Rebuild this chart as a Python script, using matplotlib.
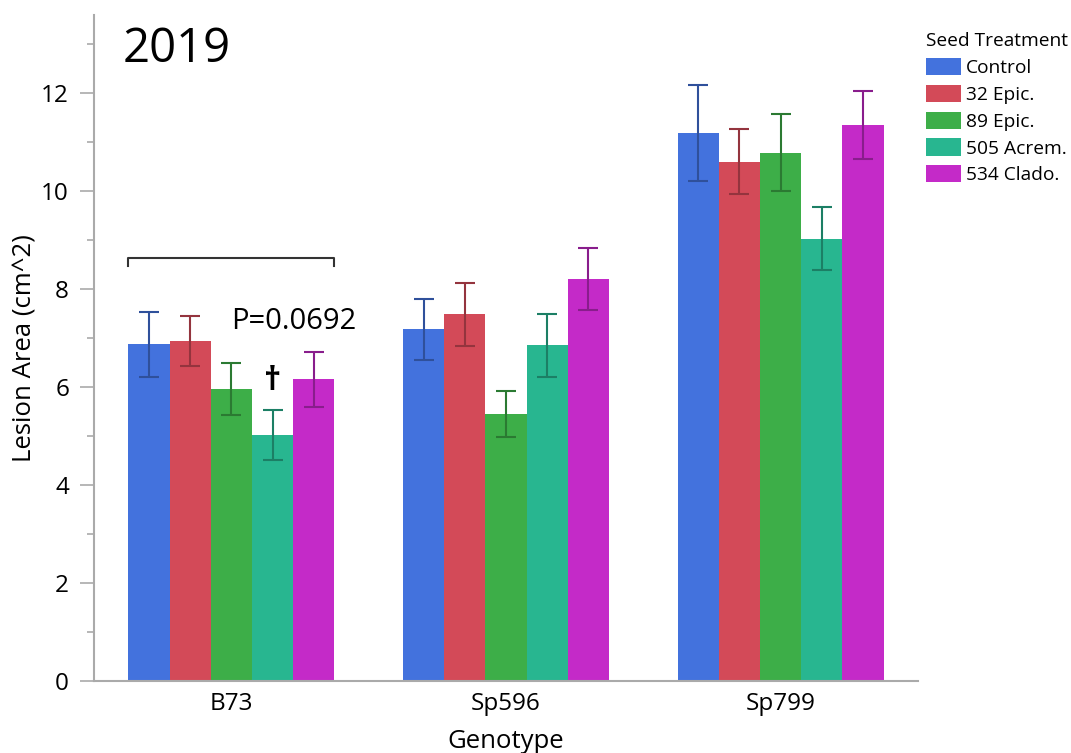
import matplotlib
matplotlib.use('Agg')
import matplotlib.pyplot as plt
import matplotlib.colors as mcolors
import numpy as np

plt.rcParams['font.family'] = ['Open Sans', 'DejaVu Sans']

# lesion area means and errors per genotype / seed treatment
genotypes = ['B73', 'Sp596', 'Sp799']
treatments = ['Control', '32 Epic.', '89 Epic.', '505 Acrem.', '534 Clado.']
means = {
    'Control':    [6.87, 7.18, 11.19],
    '32 Epic.':   [6.94, 7.48, 10.60],
    '89 Epic.':   [5.96, 5.45, 10.78],
    '505 Acrem.': [5.02, 6.85, 9.03],
    '534 Clado.': [6.16, 8.20, 11.35],
}
errors = {
    'Control':    [0.66, 0.62, 0.98],
    '32 Epic.':   [0.51, 0.64, 0.67],
    '89 Epic.':   [0.53, 0.47, 0.79],
    '505 Acrem.': [0.51, 0.65, 0.64],
    '534 Clado.': [0.56, 0.63, 0.69],
}
colors = ['#4372dd', '#d34a58', '#3dae48', '#28b690', '#c42ac8']

fig = plt.figure(figsize=(10.71, 7.53), dpi=100)
ax = fig.add_axes([0.0878, 0.0956, 0.7693, 0.885])

x = np.arange(len(genotypes))
width = 0.15
for i, t in enumerate(treatments):
    pos = x + (i - 2) * width
    dark = np.array(mcolors.to_rgb(colors[i])) * 0.7
    ax.bar(pos, means[t], width, color=colors[i], label=t, zorder=2)
    ax.errorbar(pos, means[t], yerr=errors[t], fmt='none', ecolor=dark,
                elinewidth=1.5, capsize=7, capthick=1.5, zorder=3)

# bracket over B73 with p-value
bx0, bx1, by = -0.375, 0.375, 8.64
ax.plot([bx0, bx0, bx1, bx1], [by - 0.17, by, by, by - 0.17], color='#333333', lw=1.5)
ax.text(0.0, 7.33, 'P=0.0692', fontsize=21, ha='left', va='center')
ax.text(0.15, 6.12, '†', fontsize=24, fontweight='bold', ha='center', va='center')
ax.text(0.035, 0.948, '2019', fontsize=34, ha='left', va='center', transform=ax.transAxes)

ax.set_xlim(-0.5, 2.5)
ax.set_ylim(0, 13.6)
ax.set_xticks(x)
ax.set_xticklabels(genotypes)
ax.set_yticks(np.arange(0, 13, 2))
ax.set_yticks(np.arange(1, 14, 2), minor=True)
ax.tick_params(axis='x', length=0, labelsize=17.5, pad=8)
ax.tick_params(axis='y', which='major', length=10, width=1.2, color='#aaaaaa',
               labelsize=17.5, pad=8)
ax.tick_params(axis='y', which='minor', length=5, width=1.2, color='#aaaaaa')
for s in ['top', 'right']:
    ax.spines[s].set_visible(False)
for s in ['left', 'bottom']:
    ax.spines[s].set_color('#aaaaaa')
    ax.spines[s].set_linewidth(1.5)
ax.set_xlabel('Genotype', fontsize=18.5, labelpad=9)
ax.set_ylabel('Lesion Area (cm^2)', fontsize=18.5, labelpad=2.5)

leg = ax.legend(title='Seed Treatment', loc='upper left', bbox_to_anchor=(1.0, 0.985),
                frameon=False, fontsize=13.8, title_fontsize=13.8, borderaxespad=0,
                handlelength=1.82, handleheight=1.0, handletextpad=0.3, labelspacing=0.4)
leg._legend_box.align = 'left'

fig.savefig('out.png', dpi=100)
